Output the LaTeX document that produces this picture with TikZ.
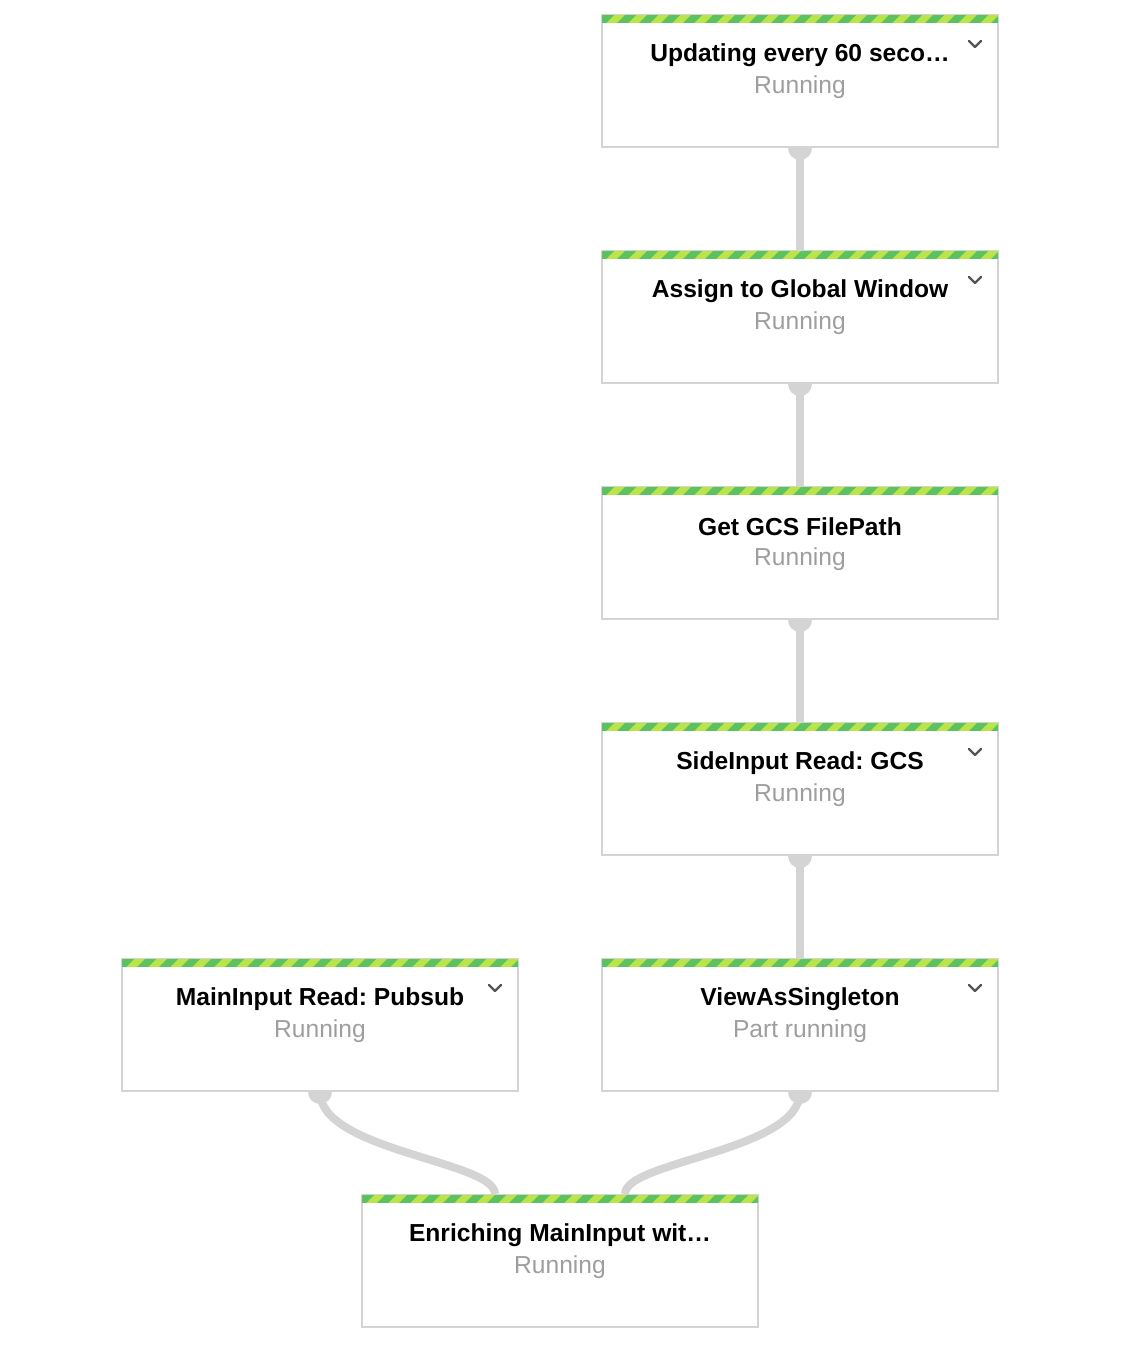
\documentclass[tikz,border=0pt]{standalone}
\usepackage{fontspec}
\setmainfont{Liberation Sans}
\usepackage{xcolor}
\usepackage{tikz}
\usetikzlibrary{calc}
\frenchspacing

\pgfdeclarelayer{background}
\pgfsetlayers{background,main}

\definecolor{edgegray}{HTML}{D4D4D4}
\definecolor{statusgray}{HTML}{9E9E9E}
\definecolor{chevgray}{HTML}{555555}
\definecolor{stripedark}{HTML}{5CC15F}
\definecolor{stripelight}{HTML}{B9E44A}

\tikzset{
	stagebox/.style={draw=edgegray, line width=0.04cm, fill=white, minimum width=7.92cm, minimum height=2.64cm, inner sep=0pt, anchor=north},
	stagetitle/.style={font=\fontsize{14}{16}\selectfont\bfseries, text=black, inner sep=0pt},
	stagestatus/.style={font=\fontsize{14}{16}\selectfont, text=statusgray, inner sep=0pt},
	link/.style={draw=edgegray, line width=0.16cm},
	chevron/.style={draw=chevgray, line width=0.045cm, line cap=round, line join=round}
}

% box with striped top bar, title and status
\newcommand{\stage}[5]{%
	\node[stagebox] (#1) at (#2,#3) {};
	\begin{scope}
		\clip ($(#1.north west)+(1,1)$) rectangle ($(#1.north east)+(-1,8)$);
		\fill[stripelight] ($(#1.north west)+(0,0)$) rectangle ($(#1.north east)+(0,9)$);
		\foreach \k in {0,...,19}
			\fill[stripedark] ($(#1.north west)+(\k*22-6,9)$) -- ++(11,0) -- ++(8,-8) -- ++(-11,0) -- cycle;
	\end{scope}
	\node[stagetitle] (#1-t) at ($(#1.north)+(0,41)$) {#4};
	\node[stagestatus] (#1-s) at ($(#1.north)+(0,73)$) {#5};
}
\newcommand{\expandmark}[1]{%
	\draw[chevron] ($(#1.north)+(169,27)$) -- ++(6,6) -- ++(6,-6);
}

\begin{document}
\begin{tikzpicture}[x=0.02cm, y=-0.02cm]
		\useasboundingbox (0,0) rectangle (1136,1350);

		\stage{upd}{800}{14}{Updating every 60 seco…}{Running}
		\stage{asg}{800}{250}{Assign to Global Window}{Running}
		\stage{gcs}{800}{486}{Get GCS FilePath}{Running}
		\stage{side}{800}{722}{SideInput Read: GCS}{Running}
		\stage{view}{800}{958}{ViewAsSingleton}{Part running}
		\stage{main}{320}{958}{MainInput Read: Pubsub}{Running}
		\stage{enr}{560}{1194}{Enriching MainInput wit…}{Running}

		\expandmark{upd}
		\expandmark{asg}
		\expandmark{side}
		\expandmark{view}
		\expandmark{main}

		\coordinate (enrL) at ($(enr.north)+(-65,0)$);
		\coordinate (enrR) at ($(enr.north)+(65,0)$);

		\begin{pgfonlayer}{background}
			\foreach \a/\b in {upd/asg, asg/gcs, gcs/side, side/view} {
				\fill[edgegray] (\a.south) circle[radius=12];
				\draw[link] (\a.south) -- (\b.north);
			}
			\fill[edgegray] (main.south) circle[radius=12];
			\fill[edgegray] (view.south) circle[radius=12];
			\draw[link] (main.south) .. controls +(0,59) and +(0,-33) .. (enrL);
			\draw[link] (view.south) .. controls +(0,59) and +(0,-33) .. (enrR);
		\end{pgfonlayer}
	\end{tikzpicture}
\end{document}
